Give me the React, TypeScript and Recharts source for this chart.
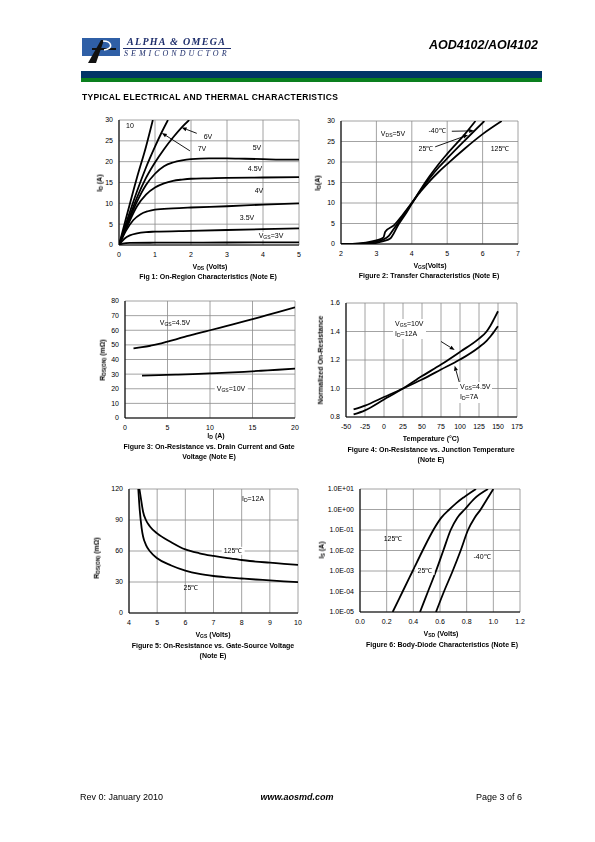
import React from 'react';
import { LineChart, Line, XAxis, YAxis, CartesianGrid, ReferenceLine } from 'recharts';

const FONT = '"Liberation Sans", Arial, Helvetica, sans-serif';
const SERIF = '"Liberation Serif", "Times New Roman", serif';

type Pt = { x: number; y: number };
const mk = (a: number[][]): Pt[] => a.map(([x, y]) => ({ x, y }));

// ---------- Figure 1: On-region characteristics (VDS vs ID) ----------
const fig1XTicks = [0, 1, 2, 3, 4, 5];
const fig1YTicks = [0, 5, 10, 15, 20, 25, 30];
const fig1Vgs10 = mk([[0, 0], [0.25, 8.2], [0.5, 16.2], [0.75, 23.6], [0.94, 30]]);
const fig1Vgs7 = mk([[0, 0], [0.25, 6.6], [0.5, 12.9], [0.75, 18.6], [1.0, 23.6], [1.2, 27.3], [1.36, 30]]);
const fig1Vgs6 = mk([[0, 0], [0.25, 5.8], [0.5, 11.4], [0.75, 16.1], [1.0, 19.8], [1.25, 23.0], [1.5, 25.8], [1.75, 28.3], [1.95, 30]]);
const fig1Vgs5 = mk([[0, 0], [0.25, 5.4], [0.5, 10.4], [0.75, 14.4], [1.0, 17.1], [1.25, 18.9], [1.5, 19.8], [1.75, 20.3], [2.0, 20.6], [2.5, 20.8], [3.0, 20.8], [3.5, 20.7], [4.0, 20.6], [4.5, 20.5], [5.0, 20.5]]);
const fig1Vgs45 = mk([[0, 0], [0.25, 4.9], [0.5, 9.3], [0.75, 12.1], [1.0, 13.8], [1.25, 14.8], [1.5, 15.4], [1.75, 15.7], [2.0, 15.9], [2.5, 16.0], [3.0, 16.1], [4.0, 16.2], [5.0, 16.3]]);
const fig1Vgs4 = mk([[0, 0], [0.2, 3.5], [0.4, 6.0], [0.6, 7.4], [0.8, 8.1], [1.0, 8.5], [1.5, 8.8], [2.0, 9.0], [3.0, 9.3], [4.0, 9.7], [5.0, 10.0]]);
const fig1Vgs35 = mk([[0, 0], [0.15, 1.5], [0.3, 2.3], [0.5, 2.8], [0.75, 3.1], [1.0, 3.2], [2.0, 3.4], [3.0, 3.6], [4.0, 3.8], [5.0, 4.0]]);
const fig1Vgs3 = mk([[0, 0], [0.1, 0.35], [0.3, 0.5], [1.0, 0.55], [3.0, 0.6], [5.0, 0.65]]);
const fig1Arrow6V = [{ x: 2.16, y: 26.8 }, { x: 1.74, y: 28.2 }];
const fig1Arrow7V = [{ x: 1.97, y: 22.6 }, { x: 1.19, y: 26.9 }];

// ---------- Figure 2: Transfer characteristics ----------
const fig2XTicks = [2, 3, 4, 5, 6, 7];
const fig2YTicks = [0, 5, 10, 15, 20, 25, 30];
const fig2T125 = mk([[2, 0], [2.4, 0.1], [2.7, 0.35], [3.0, 0.9], [3.2, 1.6], [3.25, 3.0], [3.5, 4.6], [3.75, 7.2], [4.0, 10], [4.25, 12.8], [4.5, 15.3], [4.75, 17.5], [5.0, 19.5], [5.5, 23.3], [6.0, 26.8], [6.54, 30]]);
const fig2T25 = mk([[2, 0], [2.5, 0.05], [2.8, 0.25], [3.0, 0.6], [3.2, 1.1], [3.35, 2.0], [3.5, 3.8], [3.75, 6.8], [4.0, 10], [4.25, 13.1], [4.5, 16.0], [4.75, 18.6], [5.0, 20.9], [5.5, 25.3], [6.05, 30]]);
const fig2Tm40 = mk([[2, 0], [2.7, 0.05], [3.0, 0.3], [3.2, 0.7], [3.4, 1.4], [3.45, 2.0], [3.6, 4.4], [3.8, 7.0], [4.0, 9.8], [4.25, 13.3], [4.5, 16.5], [4.75, 19.4], [5.0, 22.0], [5.5, 26.8], [5.8, 30]]);
const fig2ArrowM40 = [{ x: 5.13, y: 27.5 }, { x: 5.76, y: 27.6 }];
const fig2Arrow25 = [{ x: 4.66, y: 23.7 }, { x: 5.59, y: 26.6 }];

// ---------- Figure 3: On-resistance vs drain current ----------
const fig3XTicks = [0, 5, 10, 15, 20];
const fig3YTicks = [0, 10, 20, 30, 40, 50, 60, 70, 80];
const fig3Vgs45 = mk([[1, 47.6], [2, 48.4], [3, 49.4], [4, 50.6], [5, 52.2], [6, 53.8], [7, 55.5], [8, 57], [9, 58.5], [10, 60], [12, 63], [14, 66], [16, 69.2], [18, 72.4], [20, 75.7]]);
const fig3Vgs10 = mk([[2, 29], [4, 29.3], [6, 29.6], [8, 30], [10, 30.5], [12, 31], [14, 31.6], [16, 32.3], [18, 33], [20, 33.8]]);

// ---------- Figure 4: Normalized on-resistance vs temperature ----------
const fig4XTicks = [-50, -25, 0, 25, 50, 75, 100, 125, 150, 175];
const fig4YTicks = [0.8, 1.0, 1.2, 1.4, 1.6];
const fig4Vgs10 = mk([[-40, 0.818], [-25, 0.847], [0, 0.923], [25, 1.0], [50, 1.087], [75, 1.168], [100, 1.257], [125, 1.35], [135, 1.40], [140, 1.44], [145, 1.49], [150, 1.542]]);
const fig4Vgs45 = mk([[-40, 0.853], [-25, 0.88], [0, 0.94], [25, 1.0], [50, 1.063], [75, 1.133], [100, 1.203], [125, 1.29], [135, 1.335], [140, 1.365], [145, 1.40], [150, 1.437]]);
const fig4Arrow10 = [{ x: 75, y: 1.33 }, { x: 93, y: 1.27 }];
const fig4Arrow45 = [{ x: 99, y: 1.045 }, { x: 93, y: 1.16 }];

// ---------- Figure 5: On-resistance vs gate-source voltage ----------
const fig5XTicks = [4, 5, 6, 7, 8, 9, 10];
const fig5YTicks = [0, 30, 60, 90, 120];
const fig5T125 = mk([[4.37, 120], [4.45, 106], [4.5, 98], [4.6, 90], [4.75, 83.5], [5, 77], [5.5, 68.5], [6, 61.5], [6.5, 57.8], [7, 55.2], [7.5, 53], [8, 51.3], [8.5, 49.8], [9, 48.7], [9.5, 47.5], [10, 46.5]]);
const fig5T25 = mk([[4.33, 120], [4.38, 100], [4.45, 82], [4.5, 74], [4.6, 66], [4.75, 59.5], [5, 53], [5.5, 46], [6, 41], [6.5, 37.8], [7, 35.8], [7.5, 34.5], [8, 33.4], [8.5, 32.4], [9, 31.6], [9.5, 30.6], [10, 29.8]]);

// ---------- Figure 6: Body-diode characteristics ----------
const fig6XTicks = [0, 0.2, 0.4, 0.6, 0.8, 1.0, 1.2];
const fig6YTicks = [1e-5, 1e-4, 1e-3, 1e-2, 1e-1, 1, 10];
const fig6T125 = mk([[0.245, 1e-5], [0.32, 1e-4], [0.395, 1e-3], [0.47, 1e-2], [0.55, 1e-1], [0.61, 0.4], [0.67, 1], [0.72, 2], [0.78, 4], [0.87, 10]]);
const fig6T25 = mk([[0.45, 1e-5], [0.51, 1e-4], [0.57, 1e-3], [0.625, 1e-2], [0.68, 1e-1], [0.73, 0.4], [0.785, 1], [0.86, 3.5], [0.96, 10]]);
const fig6Tm40 = mk([[0.57, 1e-5], [0.63, 1e-4], [0.695, 1e-3], [0.755, 1e-2], [0.81, 1e-1], [0.86, 0.4], [0.905, 1], [0.95, 3], [1.0, 10]]);

// ---------- layout helpers ----------
type Box = { x0: number; y0: number; x1: number; y1: number };
const PL = 40, PT = 8, PR = 14, PB = 22;

const arrowShape = (p: any) => {
  const { x1, y1, x2, y2 } = p;
  const ang = Math.atan2(y2 - y1, x2 - x1);
  const len = 5, wid = 2;
  const bx = x2 - len * Math.cos(ang), by = y2 - len * Math.sin(ang);
  const px = -Math.sin(ang) * wid, py = Math.cos(ang) * wid;
  return (
    <g>
      <line x1={x1} y1={y1} x2={bx} y2={by} stroke="#000" strokeWidth={0.9} />
      <polygon points={`${x2},${y2} ${bx + px},${by + py} ${bx - px},${by - py}`} fill="#000" />
    </g>
  );
};

const tickStyle = { fontSize: 7, fill: '#000', fontFamily: FONT };

function Plot(props: {
  box: Box; xDomain: number[]; yDomain: number[]; xTicks: number[]; yTicks: number[];
  log?: boolean; xFmt?: (v: number) => string; yFmt?: (v: number) => string; children?: React.ReactNode;
}) {
  const { box, xDomain, yDomain, xTicks, yTicks, log, xFmt, yFmt, children } = props;
  const w = box.x1 - box.x0 + PL + PR;
  const h = box.y1 - box.y0 + PT + PB;
  return (
    <div style={{ position: 'absolute', left: box.x0 - PL, top: box.y0 - PT, width: w, height: h }}>
      <LineChart width={w} height={h} margin={{ top: PT, right: PR, left: 0, bottom: 0 }}>
        <CartesianGrid stroke="#8c8c8c" strokeWidth={0.8} />
        <XAxis type="number" dataKey="x" domain={xDomain as any} ticks={xTicks} interval={0} height={PB}
          tickLine={false} tickSize={0} tickMargin={7} axisLine={{ stroke: '#000', strokeWidth: 1.1 }}
          tick={tickStyle} tickFormatter={xFmt as any} allowDataOverflow />
        <YAxis type="number" domain={yDomain as any} ticks={yTicks} interval={0} width={PL}
          scale={log ? 'log' : 'auto'} tickLine={false} tickSize={0} tickMargin={6}
          axisLine={{ stroke: '#000', strokeWidth: 1.1 }} tick={tickStyle} tickFormatter={yFmt as any} allowDataOverflow />
        {children}
      </LineChart>
    </div>
  );
}

const curve = (data: Pt[], key: string) => (
  <Line key={key} data={data} dataKey="y" type="monotone" stroke="#000" strokeWidth={1.8}
    dot={false} activeDot={false} isAnimationActive={false} />
);
const arrow = (seg: Pt[], key: string) => (
  <ReferenceLine key={key} segment={seg as any} stroke="#000" shape={arrowShape} ifOverflow="visible" />
);

function Tx(p: { x: number; y: number; a?: 'l' | 'c' | 'r'; s?: number; b?: boolean; i?: boolean; bg?: boolean; f?: string; children: React.ReactNode; style?: any }) {
  const tx = p.a === 'c' ? '-50%' : p.a === 'r' ? '-100%' : '0';
  return (
    <div style={{
      position: 'absolute', left: p.x, top: p.y, transform: `translate(${tx},-50%)`, willChange: 'transform',
      fontSize: p.s ?? 7, fontWeight: p.b ? 'bold' : 'normal', fontStyle: p.i ? 'italic' : 'normal',
      fontFamily: p.f ?? FONT, lineHeight: 1.2, whiteSpace: 'nowrap', color: '#000',
      background: p.bg ? '#fff' : 'transparent', padding: p.bg ? '0 2px' : 0, ...(p.style || {}),
    }}>{p.children}</div>
  );
}
function VTx(p: { x: number; y: number; s?: number; children: React.ReactNode }) {
  return (
    <div style={{
      position: 'absolute', left: p.x, top: p.y, transform: 'translate(-50%,-50%) rotate(-90deg)', willChange: 'transform',
      fontSize: p.s ?? 7, fontWeight: 'bold', fontFamily: FONT, whiteSpace: 'nowrap', lineHeight: 1.2, color: '#000',
    }}>{p.children}</div>
  );
}
const Sb = ({ c }: { c: string }) => <span style={{ fontSize: '0.72em', position: 'relative', top: '0.25em' }}>{c}</span>;

const fmt1 = (v: number) => v.toFixed(1);
const fmtE = (v: number) => {
  const e = Math.round(Math.log10(v));
  return `1.0E${e < 0 ? '-' : '+'}${String(Math.abs(e)).padStart(2, '0')}`;
};

const CAP = 7;

export default function App() {
  return (
    <div style={{ position: 'absolute', left: 0, top: 0, width: 595, height: 842, background: '#fff', overflow: 'hidden', fontFamily: FONT }}>
      {/* header */}
      <svg style={{ position: 'absolute', left: 82, top: 37 }} width={42} height={28}>
        <rect x={0} y={1} width={38} height={18} fill="#2f5fa6" />
        <path d="M6 26 L19 3 L22 3 L14 26 Z" fill="#111" />
        <path d="M10 12 L34 12" stroke="#111" strokeWidth={2} />
        <path d="M21 4 C 30 4, 32 12, 22 13" stroke="#fff" strokeWidth={1.6} fill="none" />
      </svg>
      <Tx x={127} y={42} s={10} b i f={SERIF} style={{ color: '#1d2d6b', letterSpacing: 1.3 }}>ALPHA &amp; OMEGA</Tx>
      <div style={{ position: 'absolute', left: 123, top: 47.5, width: 108, height: 1, background: '#1d2d6b' }} />
      <Tx x={124} y={53.5} s={8} i f={SERIF} style={{ color: '#1d2d6b', letterSpacing: 3 }}>SEMICONDUCTOR</Tx>
      <Tx x={538} y={45} a="r" s={12.5} b i>AOD4102/AOI4102</Tx>
      <div style={{ position: 'absolute', left: 81, top: 71, width: 461, height: 7, background: '#013466' }} />
      <div style={{ position: 'absolute', left: 81, top: 78, width: 461, height: 3.5, background: '#0a7f1e' }} />
      <Tx x={82} y={97} s={8.5} b style={{ letterSpacing: 0.35 }}>TYPICAL ELECTRICAL AND THERMAL CHARACTERISTICS</Tx>

      {/* Figure 1 */}
      <Plot box={{ x0: 119, y0: 120, x1: 299, y1: 245 }} xDomain={[0, 5]} yDomain={[0, 30]} xTicks={fig1XTicks} yTicks={fig1YTicks}>
        {curve(fig1Vgs10, 'a')}{curve(fig1Vgs7, 'b')}{curve(fig1Vgs6, 'c')}{curve(fig1Vgs5, 'd')}
        {curve(fig1Vgs45, 'e')}{curve(fig1Vgs4, 'f')}{curve(fig1Vgs35, 'g')}{curve(fig1Vgs3, 'h')}
        {arrow(fig1Arrow6V, 'r1')}{arrow(fig1Arrow7V, 'r2')}
      </Plot>
      <Tx x={126} y={126}>10</Tx>
      <Tx x={208} y={137} a="c">6V</Tx>
      <Tx x={202} y={149} a="c">7V</Tx>
      <Tx x={257} y={147.5} a="c">5V</Tx>
      <Tx x={255} y={169} a="c">4.5V</Tx>
      <Tx x={258.5} y={191} a="c">4V</Tx>
      <Tx x={247} y={217.5} a="c">3.5V</Tx>
      <Tx x={271} y={235.5} a="c" bg>V<Sb c="GS" />=3V</Tx>
      <VTx x={100} y={183}>I<Sb c="D" /> (A)</VTx>
      <Tx x={210} y={267} a="c" b>V<Sb c="DS" /> (Volts)</Tx>
      <Tx x={208} y={277} a="c" b s={CAP}>Fig 1: On-Region Characteristics (Note E)</Tx>

      {/* Figure 2 */}
      <Plot box={{ x0: 341, y0: 121, x1: 518, y1: 244 }} xDomain={[2, 7]} yDomain={[0, 30]} xTicks={fig2XTicks} yTicks={fig2YTicks}>
        {curve(fig2T125, 'a')}{curve(fig2T25, 'b')}{curve(fig2Tm40, 'c')}
        {arrow(fig2ArrowM40, 'r1')}{arrow(fig2Arrow25, 'r2')}
      </Plot>
      <Tx x={393} y={134} a="c">V<Sb c="DS" />=5V</Tx>
      <Tx x={437} y={131} a="c">-40℃</Tx>
      <Tx x={426} y={149} a="c">25℃</Tx>
      <Tx x={500} y={148.5} a="c">125℃</Tx>
      <VTx x={318} y={183}>I<Sb c="D" />(A)</VTx>
      <Tx x={430} y={266} a="c" b>V<Sb c="GS" />(Volts)</Tx>
      <Tx x={429} y={276} a="c" b s={CAP}>Figure 2: Transfer Characteristics (Note E)</Tx>

      {/* Figure 3 */}
      <Plot box={{ x0: 125, y0: 301, x1: 295, y1: 418 }} xDomain={[0, 20]} yDomain={[0, 80]} xTicks={fig3XTicks} yTicks={fig3YTicks}>
        {curve(fig3Vgs45, 'a')}{curve(fig3Vgs10, 'b')}
      </Plot>
      <Tx x={175} y={323} a="c">V<Sb c="GS" />=4.5V</Tx>
      <Tx x={231} y={389} a="c" bg>V<Sb c="GS" />=10V</Tx>
      <VTx x={103} y={360}>R<Sb c="DS(ON)" /> (mΩ)</VTx>
      <Tx x={216} y={436} a="c" b>I<Sb c="D" /> (A)</Tx>
      <Tx x={209} y={447} a="c" b s={CAP}>Figure 3: On-Resistance vs. Drain Current and Gate</Tx>
      <Tx x={209} y={456.5} a="c" b s={CAP}>Voltage (Note E)</Tx>

      {/* Figure 4 */}
      <Plot box={{ x0: 346, y0: 303, x1: 517, y1: 417 }} xDomain={[-50, 175]} yDomain={[0.8, 1.6]} xTicks={fig4XTicks} yTicks={fig4YTicks} yFmt={fmt1}>
        {curve(fig4Vgs10, 'a')}{curve(fig4Vgs45, 'b')}
        {arrow(fig4Arrow10, 'r1')}{arrow(fig4Arrow45, 'r2')}
      </Plot>
      <div style={{ position: 'absolute', left: 393, top: 319, background: '#fff', padding: '0 2px', fontSize: 7, fontFamily: FONT, lineHeight: '9px', willChange: 'transform' }}>
        <div>V<Sb c="GS" />=10V</div><div>I<Sb c="D" />=12A</div>
      </div>
      <div style={{ position: 'absolute', left: 458, top: 382, background: '#fff', padding: '0 2px 1px', fontSize: 7, fontFamily: FONT, lineHeight: '9px', willChange: 'transform' }}>
        <div>V<Sb c="GS" />=4.5V</div><div>I<Sb c="D" />=7A</div>
      </div>
      <VTx x={321} y={360}>Normalized On-Resistance</VTx>
      <Tx x={431} y={439} a="c" b>Temperature (°C)</Tx>
      <Tx x={431} y={450} a="c" b s={CAP}>Figure 4: On-Resistance vs. Junction Temperature</Tx>
      <Tx x={431} y={460} a="c" b s={CAP}>(Note E)</Tx>

      {/* Figure 5 */}
      <Plot box={{ x0: 129, y0: 489, x1: 298, y1: 613 }} xDomain={[4, 10]} yDomain={[0, 120]} xTicks={fig5XTicks} yTicks={fig5YTicks}>
        {curve(fig5T125, 'a')}{curve(fig5T25, 'b')}
      </Plot>
      <Tx x={253} y={499} a="c">I<Sb c="D" />=12A</Tx>
      <Tx x={233} y={551} a="c" bg>125℃</Tx>
      <Tx x={191} y={588} a="c">25℃</Tx>
      <VTx x={97} y={558}>R<Sb c="DS(ON)" /> (mΩ)</VTx>
      <Tx x={213} y={635} a="c" b>V<Sb c="GS" /> (Volts)</Tx>
      <Tx x={213} y={646} a="c" b s={CAP}>Figure 5: On-Resistance vs. Gate-Source Voltage</Tx>
      <Tx x={213} y={656} a="c" b s={CAP}>(Note E)</Tx>

      {/* Figure 6 */}
      <Plot box={{ x0: 360, y0: 489, x1: 520, y1: 612 }} xDomain={[0, 1.2]} yDomain={[1e-5, 10]} xTicks={fig6XTicks} yTicks={fig6YTicks} log xFmt={fmt1} yFmt={fmtE}>
        {curve(fig6T125, 'a')}{curve(fig6T25, 'b')}{curve(fig6Tm40, 'c')}
      </Plot>
      <Tx x={393} y={539} a="c">125℃</Tx>
      <Tx x={425} y={571} a="c" bg>25℃</Tx>
      <Tx x={482} y={557} a="c">-40℃</Tx>
      <VTx x={322} y={550}>I<Sb c="S" /> (A)</VTx>
      <Tx x={441} y={634} a="c" b>V<Sb c="SD" /> (Volts)</Tx>
      <Tx x={442} y={645} a="c" b s={CAP}>Figure 6: Body-Diode Characteristics (Note E)</Tx>

      {/* footer */}
      <Tx x={80} y={797} s={9}>Rev 0: January 2010</Tx>
      <Tx x={297} y={797} a="c" s={9} b i>www.aosmd.com</Tx>
      <Tx x={522} y={797} a="r" s={9}>Page 3 of 6</Tx>
    </div>
  );
}
